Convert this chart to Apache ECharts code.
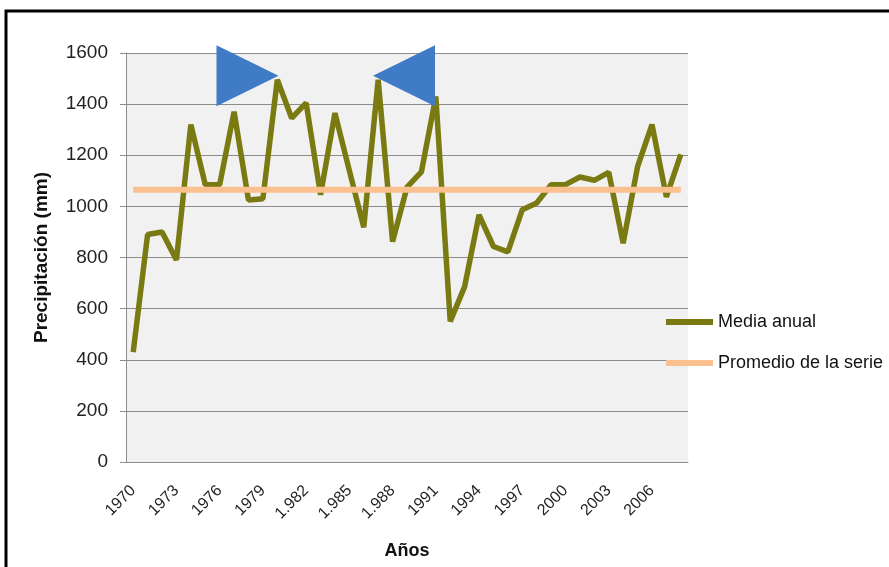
<!DOCTYPE html>
<html>
<head>
<meta charset="utf-8">
<script src="https://cdn.jsdelivr.net/npm/echarts@6/dist/echarts.min.js"></script>
<style>
html,body{margin:0;padding:0;background:#fff;}
#chart{width:889px;height:567px;}
</style>
</head>
<body>
<div id="chart"></div>
<script>
var years = ['1970','1971','1972','1973','1974','1975','1976','1977','1978','1979',
             '1980','1981','1982','1983','1984','1985','1986','1987','1988','1989',
             '1990','1991','1992','1993','1994','1995','1996','1997','1998','1999',
             '2000','2001','2002','2003','2004','2005','2006','2007','2008'];
var mediaAnual = [430, 890, 900, 790, 1320, 1085, 1085, 1370, 1025, 1030,
                  1495, 1345, 1405, 1045, 1365, 1140, 918, 1495, 862, 1075,
                  1135, 1430, 550, 686, 967, 843, 822, 987, 1013, 1085,
                  1085, 1115, 1102, 1133, 856, 1155, 1320, 1037, 1203];
var promedioSerie = 1065;
var promedio = years.map(function(){ return promedioSerie; });
var xTickLabels = ['1970','1973','1976','1979','1.982','1.985','1.988','1991','1994','1997','2000','2003','2006'];
var yTicks = [0, 200, 400, 600, 800, 1000, 1200, 1400, 1600];
var seriesNames = ['Media anual', 'Promedio de la serie'];
// annotation arrows (position in data space)
var arrows = [
  {cat: '1978', val: 1511, dir: 'right', dx: -1},
  {cat: '1989', val: 1511, dir: 'left', dx: -3}
];

var chart = echarts.init(document.getElementById('chart'));
var font = 'Liberation Sans, Arial, sans-serif';
var option = {
  animation: false,
  backgroundColor: '#ffffff',
  textStyle: {fontFamily: font},
  grid: {left: 126, right: 201, top: 53, bottom: 105, show: true, backgroundColor: '#f1f1f1', borderWidth: 0},
  legend: {
    orient: 'vertical', left: 661, top: 308, itemGap: 23,
    itemWidth: 47, itemHeight: 6, icon: 'rect',
    textStyle: {fontFamily: font, fontSize: 18, color: '#111'},
    data: seriesNames
  },
  xAxis: {
    type: 'category', data: years, boundaryGap: true,
    name: 'Años', nameLocation: 'middle', nameGap: 80,
    nameTextStyle: {fontFamily: font, fontSize: 18, fontWeight: 'bold', color: '#111'},
    axisLine: {lineStyle: {color: '#8c8c8c', width: 1}},
    axisTick: {show: false},
    axisLabel: {
      interval: 0, rotate: 45, fontSize: 16, color: '#222', margin: 26,
      formatter: function(v, i){ return (i % 3 === 0) ? xTickLabels[i/3] : ''; }
    }
  },
  yAxis: {
    type: 'value', min: yTicks[0], max: yTicks[yTicks.length-1], interval: 200,
    name: 'Precipitación (mm)', nameLocation: 'middle', nameGap: 75,
    nameTextStyle: {fontFamily: font, fontSize: 19, fontWeight: 'bold', color: '#111'},
    axisLine: {show: true, lineStyle: {color: '#8c8c8c', width: 1}},
    axisTick: {show: true, length: 6, lineStyle: {color: '#8c8c8c'}},
    axisLabel: {fontSize: 19, color: '#222', margin: 18, formatter: function(v){ return String(v); }},
    splitLine: {lineStyle: {color: '#8c8c8c', width: 1}}
  },
  graphic: [{
    type: 'rect', shape: {x: 6, y: 11, width: 900, height: 570},
    style: {fill: 'none', stroke: '#000', lineWidth: 3}, z: 100, silent: true
  }],
  series: [
    {
      name: seriesNames[0], type: 'line', data: mediaAnual, showSymbol: false,
      lineStyle: {color: '#7a7a12', width: 5.5}, itemStyle: {color: '#7a7a12'}, z: 2,
      markPoint: {
        silent: true,
        label: {show: false},
        data: arrows.map(function(a){
          return {
            coord: [a.cat, a.val],
            symbol: a.dir === 'right' ? 'path://M0,0 L62,30.5 L0,61 Z' : 'path://M62,0 L0,30.5 L62,61 Z',
            symbolSize: [62, 61], symbolOffset: [a.dx, 0],
            itemStyle: {color: '#3f7bc6'}
          };
        })
      }
    },
    {
      name: seriesNames[1], type: 'line', data: promedio, showSymbol: false,
      lineStyle: {color: '#fac08f', width: 6}, itemStyle: {color: '#fac08f'}, z: 3
    }
  ]
};
chart.setOption(option);
</script>
</body>
</html>
